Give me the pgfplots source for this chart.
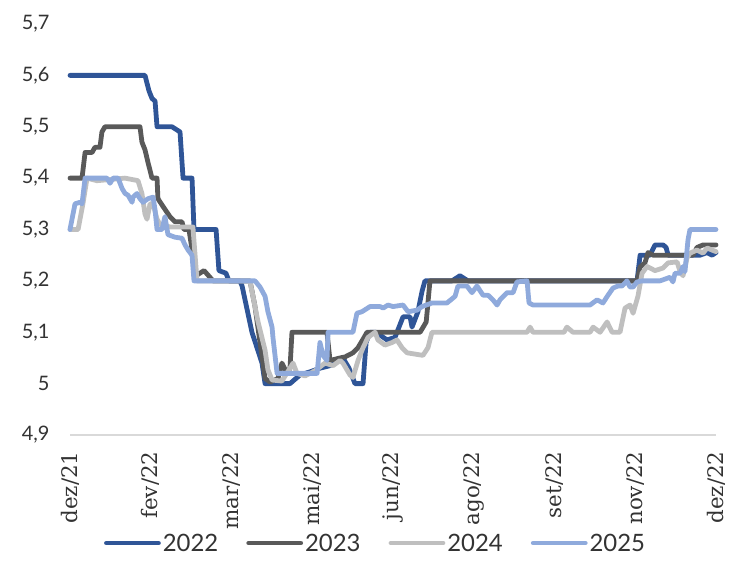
\documentclass[border=0pt]{standalone}
\usepackage{fontspec}
\setmainfont{Lato}
\newfontfamily\serifx{DejaVu Serif}
\usepackage{pgfplots}
\pgfplotsset{compat=1.18}
\definecolor{c22}{HTML}{2F5597}
\definecolor{c23}{HTML}{595959}
\definecolor{c24}{HTML}{BFBFBF}
\definecolor{c25}{HTML}{8FAADC}
\begin{document}
\begin{tikzpicture}
\begin{axis}[
  at={(0,0)}, anchor=south west,
  scale only axis, width=646bp, height=411bp,
  xmin=0, xmax=360, ymin=4.9, ymax=5.7,
  clip=false,
  axis x line=bottom, axis y line=left,
  x axis line style={-, draw=black!15, line width=1.3bp},
  y axis line style={draw=none},
  major tick length=0pt,
  ytick={4.9,5,5.1,5.2,5.3,5.4,5.5,5.6,5.7},
  yticklabels={{4,9},{5},{5,1},{5,2},{5,3},{5,4},{5,5},{5,6},{5,7}},
  xtick={0,45,90,135,180,225,270,315,360},
  xticklabels={dez/21,fev/22,mar/22,mai/22,jun/22,ago/22,set/22,nov/22,dez/22},
  xticklabel style={font=\serifx\fontsize{21.5}{21.5}\selectfont, rotate=90, anchor=east, color=black!80},
  yticklabel style={font=\fontsize{20}{20}\selectfont, anchor=east, color=black!80},
  xticklabel shift=13bp,
  yticklabel shift=17bp,
  every axis plot/.append style={line width=4.8bp, line join=round, line cap=round, mark=none},
  legend columns=4,
  legend style={at={(0.473,-0.263)}, anchor=center, draw=none, fill=none,
    font=\fontsize{24}{24}\selectfont, text=black!80,
    /tikz/every even column/.append style={column sep=26bp}},
  legend image code/.code={\draw[#1, line width=4.8bp, line cap=round] (0bp,0bp) -- (52bp,0bp);},
]
% 2022
\addplot[c22] coordinates {
(0,5.6)(41.8,5.6)(44.0,5.57)(45.7,5.555)(47.4,5.55)(48.5,5.5)(56.8,5.5)(61.3,5.49)(63.0,5.4)(68.0,5.4)
(69.1,5.3)(81.4,5.3)(83.0,5.22)(86.9,5.215)(88.6,5.2)(94.7,5.2)(95.9,5.19)(101.4,5.1)(107.0,5.04)(108.7,5.0)
(122.6,5.0)(128.2,5.017)(133.8,5.023)(139.3,5.03)(144.9,5.035)(152.1,5.05)(155.5,5.03)(158.8,5.0)(163.3,5.0)
(165.0,5.08)(167.2,5.1)(170.5,5.1)(176.7,5.085)(181.1,5.09)(185.6,5.13)(189.5,5.13)(190.6,5.11)(193.9,5.14)
(196.2,5.18)(197.8,5.2)(212.9,5.2)(217.3,5.21)(221.8,5.2)(316.0,5.2)(317.7,5.25)(323.2,5.25)(326.0,5.27)
(330.5,5.27)(332.2,5.265)(333.3,5.25)(351.1,5.25)(355.0,5.255)(357.8,5.25)(360.0,5.255)
};
\addlegendentry{2022}
% 2023
\addplot[c23] coordinates {
(0,5.4)(6.7,5.4)(8.4,5.45)(12.3,5.45)(13.9,5.46)(16.7,5.46)(17.8,5.49)(19.5,5.5)(39.0,5.5)(40.1,5.47)
(41.8,5.455)(43.5,5.43)(45.7,5.4)(48.5,5.4)(49.0,5.36)(51.8,5.345)(55.7,5.325)(58.5,5.315)(62.4,5.315)
(63.5,5.3)(66.3,5.3)(70.2,5.21)(72.4,5.215)(74.7,5.22)(78.0,5.207)(79.7,5.2)(100.3,5.2)(103.1,5.15)
(105.9,5.08)(108.7,5.01)(111.5,5.003)(115.9,5.01)(118.1,5.04)(120.9,5.02)(122.6,5.03)(123.7,5.1)
(143.2,5.1)(144.9,5.045)(150.5,5.05)(153.3,5.052)(157.7,5.06)(160.5,5.07)(163.9,5.09)(165.5,5.1)
(195.1,5.1)(198.5,5.12)(200.6,5.2)(316.0,5.2)(317.7,5.227)(320.4,5.235)(322.1,5.255)(324.9,5.25)
(347.2,5.25)(349.4,5.265)(352.8,5.27)(360.0,5.27)
};
\addlegendentry{2023}
% 2024
\addplot[c24] coordinates {
(0,5.3)(4.5,5.3)(7.2,5.35)(9.5,5.4)(15.0,5.395)(30.7,5.4)(37.9,5.395)(40.1,5.37)(41.8,5.33)(42.9,5.32)
(44.6,5.35)(46.3,5.35)(48.5,5.32)(50.2,5.31)(55.7,5.305)(68.5,5.305)(70.8,5.2)(100.3,5.2)(101.4,5.18)
(104.8,5.12)(108.7,5.065)(110.3,5.027)(112.6,5.007)(118.1,5.005)(122.6,5.03)(124.3,5.04)(126.5,5.02)
(131.0,5.015)(136.5,5.025)(142.1,5.04)(146.6,5.035)(150.5,5.045)(152.1,5.04)(156.0,5.017)(157.7,5.012)
(160.5,5.045)(163.3,5.07)(166.1,5.09)(170.0,5.1)(171.6,5.085)(175.5,5.075)(179.5,5.08)(182.2,5.085)
(185.0,5.07)(187.8,5.06)(196.7,5.055)(199.5,5.07)(201.7,5.1)(254.7,5.1)(256.4,5.11)(258.0,5.1)
(275.3,5.1)(276.9,5.11)(280.3,5.1)(289.8,5.1)(291.5,5.11)(295.4,5.1)(299.3,5.12)(302.1,5.1)(306.5,5.1)
(309.3,5.147)(312.1,5.153)(313.8,5.137)(316.5,5.17)(318.8,5.215)(321.6,5.228)(326.0,5.22)(330.5,5.225)
(333.3,5.235)(338.3,5.237)(340.0,5.218)(341.6,5.21)(343.9,5.245)(345.5,5.254)(349.4,5.26)(352.8,5.254)
(355.0,5.264)(360.0,5.257)
};
\addlegendentry{2024}
% 2025
\addplot[c25] coordinates {
(0,5.3)(2.8,5.35)(5.6,5.353)(6.7,5.35)(8.4,5.4)(20.6,5.4)(22.3,5.39)(24.0,5.4)(26.8,5.4)(29.0,5.38)
(30.7,5.37)(32.3,5.367)(34.6,5.353)(35.1,5.363)(37.3,5.37)(39.0,5.36)(40.7,5.353)(43.5,5.36)(46.3,5.363)
(47.4,5.338)(48.5,5.3)(51.3,5.3)(52.9,5.325)(54.6,5.29)(58.5,5.285)(62.4,5.283)(64.1,5.27)(65.8,5.26)
(68.0,5.25)(69.1,5.2)(103.1,5.2)(105.9,5.188)(108.7,5.17)(110.3,5.14)(112.6,5.11)(113.1,5.09)(115.4,5.02)
(137.7,5.02)(139.3,5.08)(141.0,5.055)(143.2,5.045)(143.8,5.1)(157.7,5.1)(159.9,5.137)(162.7,5.14)
(167.2,5.15)(172.8,5.15)(174.5,5.147)(177.2,5.153)(180.0,5.15)(185.6,5.153)(188.4,5.14)(193.4,5.143)
(196.2,5.15)(201.7,5.157)(210.1,5.157)(214.6,5.17)(216.2,5.19)(221.2,5.19)(224.0,5.177)(226.8,5.19)
(230.2,5.172)(233.0,5.172)(235.7,5.163)(238.0,5.153)(239.6,5.163)(243.5,5.177)(246.9,5.177)(249.1,5.198)
(254.7,5.2)(255.8,5.157)(258.0,5.153)(289.8,5.153)(293.7,5.163)(297.0,5.157)(299.8,5.172)(302.6,5.186)
(305.4,5.19)(307.6,5.19)(310.4,5.2)(312.1,5.188)(313.8,5.188)(316.0,5.198)(318.8,5.2)(328.8,5.2)
(334.4,5.207)(336.0,5.198)(337.2,5.215)(340.0,5.215)(341.6,5.228)(342.7,5.218)(344.4,5.28)(345.5,5.3)
(360.0,5.3)
};
\addlegendentry{2025}
\end{axis}
\pgfresetboundingbox
\path (-70bp,-146bp) rectangle (659bp,435bp);
\end{tikzpicture}
\end{document}
